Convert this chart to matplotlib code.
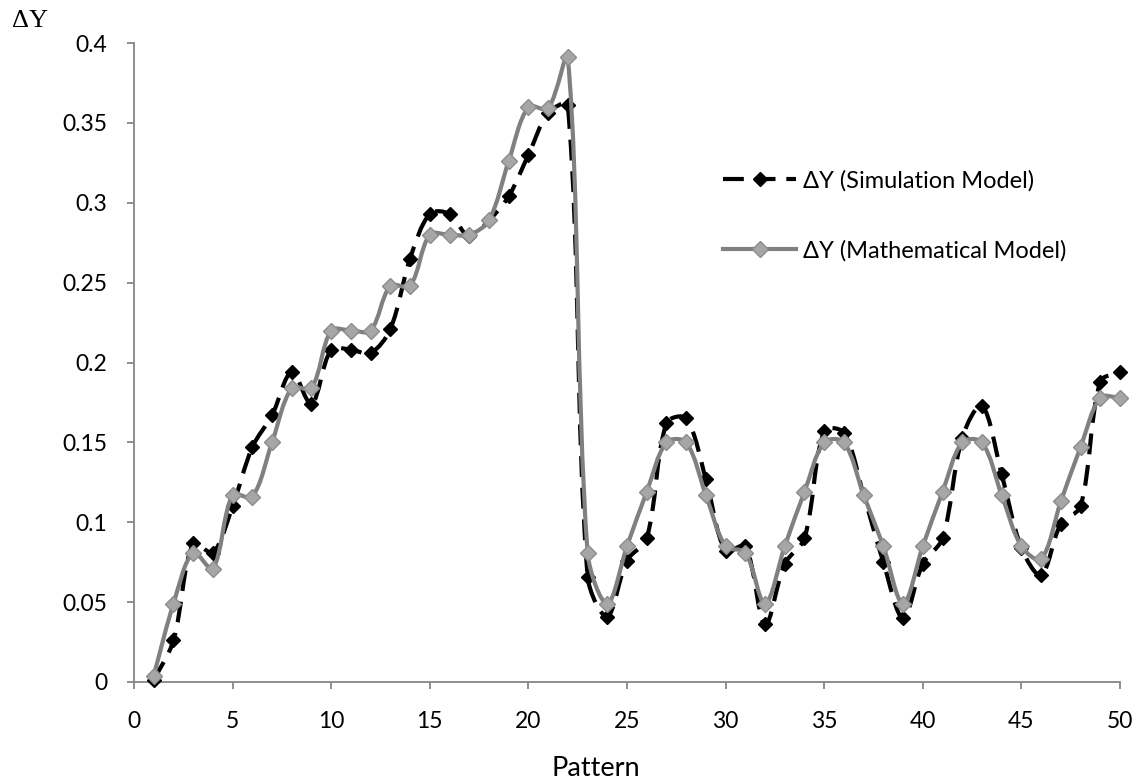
import matplotlib
matplotlib.use("Agg")
import numpy as np
import matplotlib.pyplot as plt
from matplotlib.path import Path
from matplotlib.patches import PathPatch
from matplotlib.lines import Line2D

pattern = list(range(1, 51))

sim_model = [0.001, 0.026, 0.087, 0.081, 0.110, 0.147, 0.167, 0.194, 0.174, 0.208,
             0.208, 0.206, 0.221, 0.265, 0.293, 0.293, 0.279, 0.289, 0.304, 0.330,
             0.356, 0.361, 0.066, 0.041, 0.076, 0.090, 0.162, 0.165, 0.127, 0.082,
             0.085, 0.036, 0.074, 0.090, 0.157, 0.156, 0.117, 0.075, 0.040, 0.074,
             0.090, 0.153, 0.173, 0.130, 0.084, 0.067, 0.099, 0.110, 0.188, 0.194]

math_model = [0.004, 0.049, 0.081, 0.071, 0.117, 0.116, 0.150, 0.184, 0.184, 0.220,
              0.220, 0.220, 0.248, 0.248, 0.280, 0.280, 0.280, 0.289, 0.326, 0.360,
              0.359, 0.391, 0.081, 0.049, 0.085, 0.119, 0.150, 0.150, 0.117, 0.085,
              0.081, 0.049, 0.085, 0.119, 0.150, 0.150, 0.117, 0.085, 0.049, 0.085,
              0.119, 0.150, 0.150, 0.117, 0.085, 0.077, 0.113, 0.147, 0.178, 0.178]

labels = ["\u0394Y (Simulation Model)", "\u0394Y (Mathematical Model)"]

W, H = 1142, 784


def smooth_path(xs, ys, sx, sy):
    # smoothed line like excel: bezier segments, tangents scaled by chord length
    # (done in pixel space so the steep drop does not overshoot much)
    pts = np.column_stack([np.asarray(xs) * sx, np.asarray(ys) * sy]).astype(float)
    n = len(pts)
    verts = [pts[0]]
    codes = [Path.MOVETO]
    for i in range(n - 1):
        p0 = pts[i - 1] if i > 0 else pts[i]
        p1 = pts[i]
        p2 = pts[i + 1]
        p3 = pts[i + 2] if i + 2 < n else pts[i + 1]
        d0 = np.hypot(*(p1 - p0))
        d1 = np.hypot(*(p2 - p1))
        d2 = np.hypot(*(p3 - p2))
        c1 = p1 + (p2 - p0) * d1 / (d0 + d1) / 3.0
        c2 = p2 - (p3 - p1) * d1 / (d1 + d2) / 3.0
        verts += [c1, c2, p2]
        codes += [Path.CURVE4] * 3
    verts = np.array(verts)
    verts[:, 0] /= sx
    verts[:, 1] /= sy
    return Path(verts, codes)


fig = plt.figure(figsize=(W / 100, H / 100), dpi=100)
ax_left, ax_right, ax_top, ax_bottom = 134, 1120, 43, 682
ax = fig.add_axes([ax_left / W, 1 - ax_bottom / H, (ax_right - ax_left) / W,
                   (ax_bottom - ax_top) / H])

font = "Lato"
grey_axis = "#868686"
sx = (ax_right - ax_left) / 50.0
sy = (ax_bottom - ax_top) / 0.4

dash = (0, (5, 2.6))

# simulation: black dashed
ax.add_patch(PathPatch(smooth_path(pattern, sim_model, sx, sy), fill=False,
                       edgecolor="black", lw=3, linestyle=dash, capstyle="butt",
                       zorder=2, clip_on=False))
ax.plot(pattern, sim_model, linestyle="none", marker="D", markersize=7.5,
        color="black", zorder=3, clip_on=False)

# mathematical: grey solid
ax.add_patch(PathPatch(smooth_path(pattern, math_model, sx, sy), fill=False,
                       edgecolor="#808080", lw=3, zorder=4, clip_on=False))
ax.plot(pattern, math_model, linestyle="none", marker="D", markersize=8,
        markerfacecolor="#A6A6A6", markeredgecolor="#8C8C8C", markeredgewidth=1,
        zorder=5, clip_on=False)

ax.set_xlim(0, 50)
ax.set_ylim(0, 0.4)
ax.set_xticks(range(0, 51, 5))
ax.set_yticks(np.arange(0, 0.401, 0.05))
ax.set_yticklabels(["0", "0.05", "0.1", "0.15", "0.2", "0.25", "0.3", "0.35", "0.4"])

for s in ["top", "right"]:
    ax.spines[s].set_visible(False)
for s in ["left", "bottom"]:
    ax.spines[s].set_color(grey_axis)
    ax.spines[s].set_linewidth(1.3)
ax.tick_params(axis="both", color=grey_axis, width=1.3, length=5, direction="out",
               labelsize=16.5)
ax.tick_params(axis="x", pad=16)
ax.tick_params(axis="y", pad=14)
for lab in ax.get_xticklabels() + ax.get_yticklabels():
    lab.set_fontfamily(font)

fig.text(596 / W, 1 - 769 / H, "Pattern", fontsize=19.5, family=font,
         ha="center", va="center")
fig.text(30 / W, 1 - 21 / H, "\u0394Y", fontsize=19, family="Liberation Serif",
         ha="center", va="center")

handles = [
    Line2D([], [], color="black", lw=3, linestyle=dash, marker="D", markersize=7.5),
    Line2D([], [], color="#808080", lw=3, marker="D", markersize=8,
           markerfacecolor="#A6A6A6", markeredgecolor="#8C8C8C"),
]
fig.legend(handles, labels, loc="upper left", bbox_to_anchor=(723 / W, 1 - 170 / H),
           frameon=False, borderpad=0, borderaxespad=0, handlelength=3.1,
           labelspacing=2.05, handletextpad=0.3, prop={"family": font, "size": 17})

fig.savefig("out.png", dpi=100)
